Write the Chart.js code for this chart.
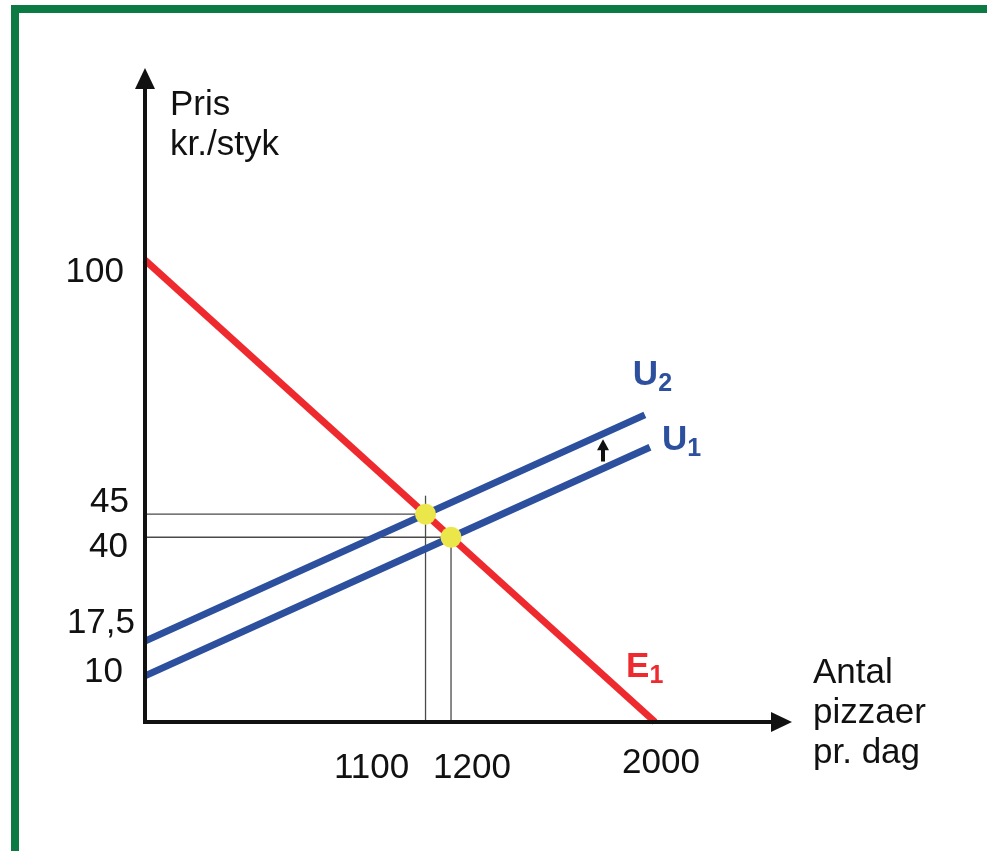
<!DOCTYPE html>
<html><head><meta charset="utf-8">
<script src="https://cdn.jsdelivr.net/npm/chart.js@4"></script>
<style>html,body{margin:0;padding:0;background:#fff;overflow:hidden}#wrap{position:relative;width:987px;height:851px}</style>
</head><body><div id="wrap"><canvas id="c" width="987" height="851"></canvas></div>
<script>
// ---- data ----
const demandQ = [0, 2000];
const demandP = [100, 0];
const supply1Q = [0, 1200, 1980];
const supply1P = [10, 40, 59.5];
const supply2Q = [0, 1100, 1960];
const supply2P = [17.5, 45, 66.5];
const equilibriumQ = [1100, 1200];
const equilibriumP = [45, 40];
const guideTopP = [49, 40];          // how far up the vertical guide lines reach
const xTickValues = [1100, 1200, 2000];
const xTickLabels = ['1100', '1200', '2000'];
const yTickValues = [100, 45, 40, 17.5, 10];
const yTickLabels = ['100', '45', '40', '17,5', '10'];
const shiftArrowQ = 1796;
const shiftArrowP = [56.4, 61.2];
const yTitle = ['Pris', 'kr./styk'];
const xTitle = ['Antal', 'pizzaer', 'pr. dag'];

const pts = (xs, ys) => xs.map((x, i) => ({x, y: ys[i]}));

// ---- style ----
const RED = '#ee2a2f', BLUE = '#2c4f9e', YEL = '#ebe74b', GUIDE = '#4a4a4a', INK = '#111';
const FONT = '"Liberation Sans", Arial, sans-serif';

const guideSets = [];
equilibriumQ.forEach((q, i) => {
  guideSets.push({data: [{x: 0, y: equilibriumP[i]}, {x: q, y: equilibriumP[i]}]});
  guideSets.push({data: [{x: q, y: 0}, {x: q, y: guideTopP[i]}]});
});

const datasets = [
  {label: 'Ligevægt', type: 'scatter', data: pts(equilibriumQ, equilibriumP), pointRadius: 10.5,
   pointBackgroundColor: YEL, pointBorderColor: YEL, pointBorderWidth: 0, order: 0},
  {label: 'E1', data: pts(demandQ, demandP), borderColor: RED, borderWidth: 7, order: 1},
  {label: 'U2', data: pts(supply2Q, supply2P), borderColor: BLUE, borderWidth: 7, order: 2},
  {label: 'U1', data: pts(supply1Q, supply1P), borderColor: BLUE, borderWidth: 7, order: 3},
  ...guideSets.map(g => ({label: 'guide', data: g.data, borderColor: GUIDE, borderWidth: 1.3, order: 5}))
];
datasets.forEach(d => { if (d.type !== 'scatter') { d.type = 'line'; d.pointRadius = 0; d.fill = false; d.tension = 0; d.borderCapStyle = 'butt'; } d.clip = false; });

const decor = {
  id: 'decor',
  beforeDraw(chart) {
    const c = chart.ctx;
    c.save();
    c.fillStyle = '#fff'; c.fillRect(0, 0, chart.width, chart.height);
    c.fillStyle = '#0b7a43';
    c.fillRect(11, 5, chart.width - 11, 8);
    c.fillRect(11, 5, 8, chart.height - 5);
    c.restore();
  },
  afterDraw(chart) {
    const c = chart.ctx, xs = chart.scales.x, ys = chart.scales.y, a = chart.chartArea;
    const x0 = xs.getPixelForValue(0), y0 = ys.getPixelForValue(0);
    c.save();
    // axes
    c.strokeStyle = INK; c.fillStyle = INK; c.lineWidth = 4; c.lineCap = 'butt';
    c.beginPath(); c.moveTo(x0, y0 + 2); c.lineTo(x0, a.top + 18); c.stroke();
    c.beginPath(); c.moveTo(x0 - 2, y0); c.lineTo(a.right - 18, y0); c.stroke();
    c.beginPath(); c.moveTo(x0, a.top); c.lineTo(x0 - 10, a.top + 21); c.lineTo(x0 + 10, a.top + 21); c.closePath(); c.fill();
    c.beginPath(); c.moveTo(a.right, y0); c.lineTo(a.right - 21, y0 - 10); c.lineTo(a.right - 21, y0 + 10); c.closePath(); c.fill();
    // shift arrow
    const ax = xs.getPixelForValue(shiftArrowQ);
    const ab = ys.getPixelForValue(shiftArrowP[0]), at = ys.getPixelForValue(shiftArrowP[1]);
    c.lineWidth = 4;
    c.beginPath(); c.moveTo(ax, ab); c.lineTo(ax, at + 8); c.stroke();
    c.beginPath(); c.moveTo(ax, at); c.lineTo(ax - 6, at + 11); c.lineTo(ax + 6, at + 11); c.closePath(); c.fill();
    // tick labels
    c.font = '35px ' + FONT; c.fillStyle = INK; c.textBaseline = 'alphabetic';
    const xOff = [-54, 21, 6], xBase = [778, 778, 773];
    c.textAlign = 'center';
    xTickValues.forEach((v, i) => c.fillText(xTickLabels[i], xs.getPixelForValue(v) + xOff[i], xBase[i]));
    const yRight = [124, 129, 128, 135, 123], yOff = [22, -2, 20, -8, 6];
    c.textAlign = 'right';
    yTickValues.forEach((v, i) => c.fillText(yTickLabels[i], yRight[i], ys.getPixelForValue(v) + yOff[i]));
    // axis titles
    c.textAlign = 'left';
    yTitle.forEach((t, i) => c.fillText(t, 170, 115 + 40 * i));
    xTitle.forEach((t, i) => c.fillText(t, 813, 683 + 40 * i));
    // curve labels
    const lab = (main, sub, color, x, y) => {
      c.fillStyle = color; c.textAlign = 'left';
      c.font = 'bold 35px ' + FONT; c.fillText(main, x, y);
      const w = c.measureText(main).width;
      c.font = 'bold 25px ' + FONT; c.fillText(sub, x + w, y + 6);
    };
    const u2x = xs.getPixelForValue(supply2Q[2]), u2y = ys.getPixelForValue(supply2P[2]);
    const u1x = xs.getPixelForValue(supply1Q[2]), u1y = ys.getPixelForValue(supply1P[2]);
    const ex = xs.getPixelForValue(demandQ[1]), ey = ys.getPixelForValue(demandP[1]);
    lab('U', '2', BLUE, u2x - 12, u2y - 30);
    lab('U', '1', BLUE, u1x + 12, u1y + 3);
    lab('E', '1', RED, ex - 29, ey - 45);
    c.restore();
  }
};

new Chart(document.getElementById('c'), {
  type: 'line',
  data: {datasets},
  options: {
    responsive: false, animation: false, devicePixelRatio: 1,
    layout: {padding: {left: 145, top: 68, right: 195, bottom: 129}},
    plugins: {legend: {display: false}, tooltip: {enabled: false}},
    scales: {
      x: {type: 'linear', min: 0, max: 2537, display: false},
      y: {type: 'linear', min: 0, max: 141.6, display: false}
    }
  },
  plugins: [decor]
});
</script></body></html>
